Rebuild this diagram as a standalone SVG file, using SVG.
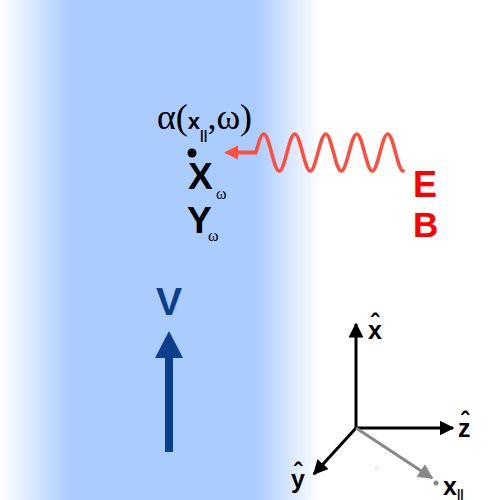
<svg xmlns="http://www.w3.org/2000/svg" width="500" height="500" viewBox="0 0 500 500">
<defs>
<linearGradient id="band" gradientUnits="userSpaceOnUse" x1="0" y1="0" x2="320" y2="0">
<stop offset="0" stop-color="#ffffff"/>
<stop offset="0.22" stop-color="#aaccff"/>
<stop offset="0.8" stop-color="#aaccff"/>
<stop offset="1" stop-color="#ffffff"/>
</linearGradient>
<marker id="ah" viewBox="0 0 10 10" refX="9" refY="5" markerWidth="5" markerHeight="5" orient="auto" markerUnits="strokeWidth"><path d="M0,0 L10,5 L0,10 z" fill="#000"/></marker>
<marker id="ahg" viewBox="0 0 10 10" refX="9" refY="5" markerWidth="5" markerHeight="5" orient="auto" markerUnits="strokeWidth"><path d="M0,0 L10,5 L0,10 z" fill="#888"/></marker>
<style>
.serif{font-family:"Liberation Serif","Times New Roman",serif}
.sans{font-family:"Liberation Sans",Arial,sans-serif;font-weight:bold}
.ax{stroke:#000;stroke-width:3;fill:none;marker-end:url(#ah)}
.lbl{font-family:"Liberation Sans",Arial,sans-serif;font-weight:bold;font-size:25px;fill:#000}
.hat{font-family:"Liberation Sans",Arial,sans-serif;font-weight:bold;font-size:25px;fill:#000;text-anchor:middle}
</style>
</defs>
<rect x="0" y="0" width="500" height="500" fill="#fff"/>
<rect x="0" y="0" width="320" height="500" fill="url(#band)"/>

<g id="alpha">
<text x="157" y="129" font-size="36" fill="#000"><tspan class="serif">α(</tspan><tspan class="sans" font-size="22">x</tspan><tspan class="sans" font-size="13" dy="10">||</tspan><tspan class="serif" dy="-10">,ω)</tspan></text>
<circle cx="192" cy="153" r="4.5" fill="#000"/>
</g>

<g id="XY">
<text x="188" y="189" class="sans" font-size="37" fill="#000">X</text>
<text x="216" y="199" class="serif" font-size="16" fill="#000">ω</text>
<text x="187" y="233" class="sans" font-size="37" fill="#000">Y</text>
<text x="208" y="241" class="serif" font-size="16" fill="#000">ω</text>
</g>

<g id="wave">
<line x1="257" y1="152.5" x2="234" y2="152.5" stroke="#ff4d3d" stroke-width="4"/>
<path d="M224,152.5 L238,145.5 L238,159.5 z" fill="#ff4d3d"/>
<path d="M256,152.5 c2.53,-9.48 4.95,-18.5 7.75,-18.5 s5.22,9.02 7.75,18.5 s4.95,18.5 7.75,18.5 s5.22,-9.02 7.75,-18.5 s4.95,-18.5 7.75,-18.5 s5.22,9.02 7.75,18.5 s4.95,18.5 7.75,18.5 s5.22,-9.02 7.75,-18.5 s4.95,-18.5 7.75,-18.5 s5.22,9.02 7.75,18.5 s4.95,18.5 7.75,18.5 s5.22,-9.02 7.75,-18.5 s4.95,-18.5 7.75,-18.5 s5.22,9.02 7.75,18.5 s4.95,18.5 7.75,18.5 s5.22,-9.02 7.75,-18.5 s4.95,-18.5 7.75,-18.5 s5.22,9.02 7.75,18.5 s4.95,18.5 7.75,18.5" fill="none" stroke="#ff4d3d" stroke-width="3.5" stroke-linecap="round"/>
</g>

<g id="EB">
<text x="413" y="197" class="sans" font-size="36" fill="#ff0000">E</text>
<text x="413" y="237" class="sans" font-size="35" fill="#ff0000">B</text>
</g>

<g id="V">
<text x="156" y="315" class="sans" font-size="39" fill="#0b3f8c">V</text>
<line x1="169" y1="452" x2="169" y2="355" stroke="#0b3f8c" stroke-width="8"/>
<path d="M169,331 L183,358 L155,358 z" fill="#0b3f8c"/>
</g>

<g id="axes">
<line class="ax" x1="356" y1="428" x2="356" y2="324"/>
<line class="ax" x1="356" y1="428" x2="453" y2="428"/>
<line class="ax" x1="356" y1="428" x2="314" y2="474"/>
<line x1="356" y1="428" x2="432" y2="478" stroke="#888" stroke-width="3" marker-end="url(#ahg)"/>
<circle cx="436" cy="483" r="2.5" fill="#888"/>
<circle cx="377" cy="469" r="1.8" fill="none" stroke="#ddd" stroke-width="0.8"/>
<text x="368" y="339" class="lbl">x</text>
<text x="375" y="332" class="hat">ˆ</text>
<text x="458" y="437" class="lbl">z</text>
<text x="465" y="430" class="hat">ˆ</text>
<text x="291" y="488" class="lbl">y</text>
<text x="298" y="481" class="hat">ˆ</text>
<text x="443" y="495" class="lbl">x<tspan font-size="12" dy="3">||</tspan></text>
</g>
</svg>
